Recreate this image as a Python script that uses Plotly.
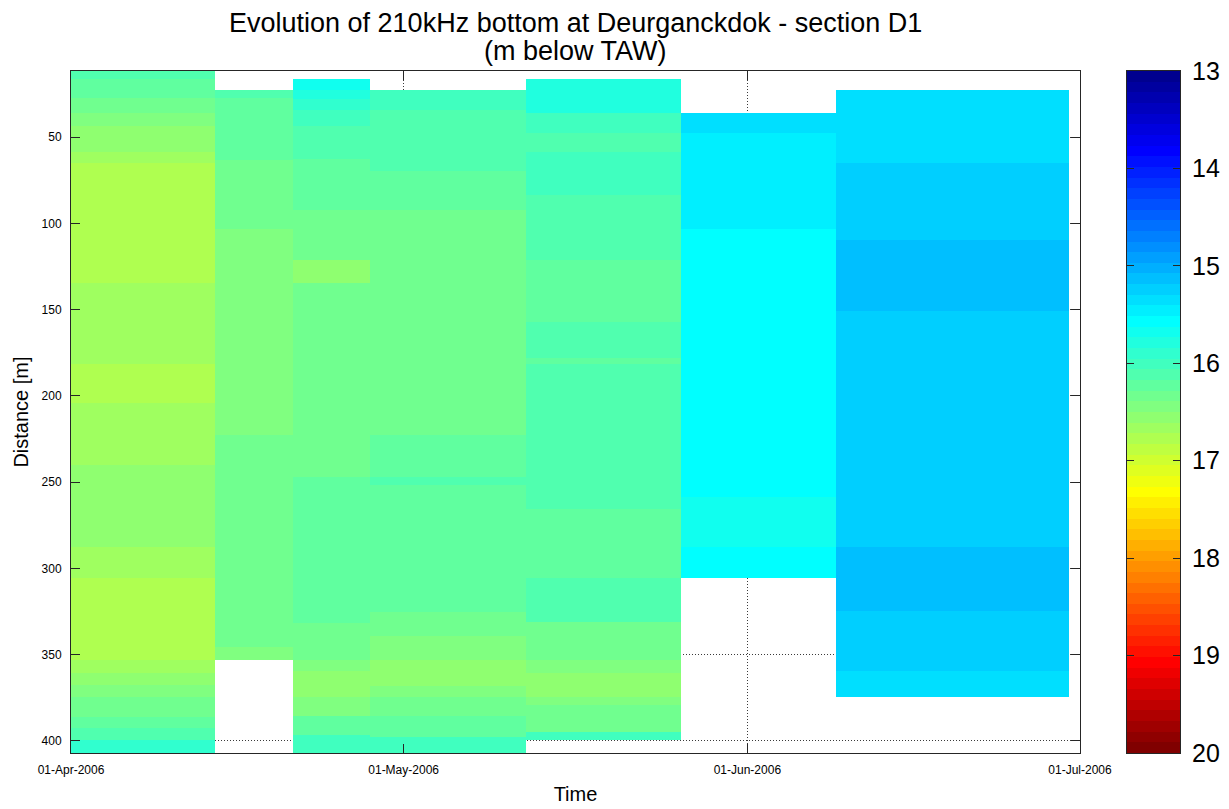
import numpy as np
import plotly.graph_objects as go

# Survey date edges: each surveyed period spans two consecutive dates
survey_edges = ["2006-04-01", "2006-04-14", "2006-04-21", "2006-04-28",
                "2006-05-12", "2006-05-26", "2006-06-09", "2006-06-30"]

# Distance cell edges along the section [m] and 210kHz bottom depth [m below TAW]
dist_s1 = [11.6, 16.2, 27.2, 35.9, 43.4, 58.5, 64.9, 134.5, 181.4, 204.0, 240.0,
           287.5, 305.5, 353.0, 360.6, 367.5, 374.5, 386.1, 392.4, 399.4, 407.0]
depth_s1 = [16.12, 16.23, 16.34, 16.45, 16.55, 16.66, 16.77, 16.66, 16.77, 16.66,
            16.55, 16.66, 16.77, 16.66, 16.55, 16.45, 16.34, 16.23, 16.12, 15.90]

dist_s2 = [22.6, 27.2, 63.2, 103.2, 222.6, 345.5, 353.0]
depth_s2 = [16.12, 16.23, 16.34, 16.45, 16.34, 16.45]

dist_s3 = [16.2, 22.6, 27.8, 34.2, 43.4, 62.6, 92.1, 121.1, 134.5, 246.9, 331.6,
           353.0, 359.4, 374.5, 385.5, 396.5, 407.0]
depth_s3 = [15.68, 15.79, 15.90, 16.01, 16.12, 16.23, 16.34, 16.55, 16.34, 16.23,
            16.34, 16.45, 16.55, 16.45, 16.23, 16.01]

dist_s4 = [22.6, 34.2, 69.5, 92.1, 222.6, 246.9, 251.6, 325.2, 339.1, 353.0,
           368.1, 374.5, 385.5, 397.7, 407.0]
depth_s4 = [16.01, 16.12, 16.23, 16.34, 16.23, 16.12, 16.23, 16.34, 16.45, 16.55,
            16.45, 16.34, 16.23, 16.01]

dist_s5 = [16.2, 35.9, 47.5, 58.5, 83.5, 121.1, 157.1, 178.0, 181.4, 265.5,
           305.5, 331.0, 353.0, 360.6, 374.5, 379.1, 394.8, 399.4]
depth_s5 = [15.79, 16.01, 16.12, 16.01, 16.12, 16.23, 16.12, 16.23, 16.12, 16.23,
            16.12, 16.34, 16.45, 16.55, 16.45, 16.34, 16.01]

dist_s6 = [35.9, 47.5, 103.2, 258.5, 287.5, 305.5]
depth_s6 = [15.35, 15.46, 15.57, 15.68, 15.57]

dist_s7 = [22.6, 64.9, 109.5, 150.7, 287.5, 324.6, 359.4, 374.5]
depth_s7 = [15.35, 15.24, 15.13, 15.24, 15.13, 15.24, 15.35]

surveys = [(dist_s1, depth_s1), (dist_s2, depth_s2), (dist_s3, depth_s3),
           (dist_s4, depth_s4), (dist_s5, depth_s5), (dist_s6, depth_s6),
           (dist_s7, depth_s7)]

# Axis ticks
time_ticks = ["2006-04-01", "2006-05-01", "2006-06-01", "2006-07-01"]
time_labels = ["01-Apr-2006", "01-May-2006", "01-Jun-2006", "01-Jul-2006"]
dist_ticks = [50, 100, 150, 200, 250, 300, 350, 400]
depth_ticks = [13, 14, 15, 16, 17, 18, 19, 20]

CMIN, CMAX, NLEV = 13.0, 20.0, 64


def jet(m):
    """MATLAB-style jet colormap with m entries."""
    n = int(np.ceil(m / 4))
    u = np.concatenate([np.arange(1, n + 1) / n, np.ones(n - 1), np.arange(n, 0, -1) / n])
    g = int(np.ceil(n / 2)) - (1 if m % 4 == 1 else 0) + np.arange(1, len(u) + 1)
    r = g + n
    b = g - n
    J = np.zeros((m, 3))
    for col, idx in ((0, r), (1, g), (2, b)):
        keep = (idx >= 1) & (idx <= m)
        J[idx[keep] - 1, col] = u[keep]
    return J


cmap = jet(NLEV)
colorscale = []
for k, c in enumerate(cmap):
    rgb = "rgb(%d,%d,%d)" % tuple(int(round(255 * v)) for v in c)
    colorscale.append([k / NLEV, rgb])
    colorscale.append([(k + 1) / NLEV, rgb])

# Merge every survey onto one common distance grid (gaps stay empty)
grid_d = sorted({d for dist, _ in surveys for d in dist})
grid_mid = [(a + b) / 2 for a, b in zip(grid_d[:-1], grid_d[1:])]
z = np.full((len(grid_mid), len(surveys)), np.nan)
for j, (dist, depth) in enumerate(surveys):
    for i, m in enumerate(grid_mid):
        for k in range(len(depth)):
            if dist[k] <= m < dist[k + 1]:
                z[i, j] = depth[k]
                break

FONT = "Arial, Liberation Sans, Helvetica, sans-serif"
AXC = "#262626"
GRID = "#3a3a3a"
GRID_DASH = "1px,2px"

fig = go.Figure()

fig.add_trace(go.Heatmap(
    x=survey_edges, y=grid_d, z=z,
    colorscale=colorscale, zmin=CMIN, zmax=CMAX,
    showscale=False, xaxis="x", yaxis="y", hoverongaps=False,
    hovertemplate="%{y:.0f} m: %{z:.2f} m<extra></extra>",
))

# Colour bar drawn as its own small axis so 13 sits at the top
cb_edges = np.linspace(CMIN, CMAX, NLEV + 1)
cb_mid = (cb_edges[:-1] + cb_edges[1:]) / 2
fig.add_trace(go.Heatmap(
    x=[0, 1], y=cb_edges, z=[[v] for v in cb_mid],
    colorscale=colorscale, zmin=CMIN, zmax=CMAX,
    showscale=False, xaxis="x2", yaxis="y2", hoverinfo="skip",
))

d_min, d_max = grid_d[0], grid_d[-1]

L, R, T, B = 71, 49, 71, 56
W, H = 1229, 809
pw = W - L - R
ph = H - T - B
main_w = 1009
cb_left = 1127 - L
title_x = (main_w / 2) / pw

fig.update_layout(
    width=W, height=H,
    margin=dict(l=L, r=R, t=T, b=B, pad=0, autoexpand=False),
    paper_bgcolor="white", plot_bgcolor="white",
    font=dict(family=FONT, color="black"),
    annotations=[
        dict(text="Evolution of 210kHz bottom at Deurganckdok - section D1",
             x=title_x, xref="paper", xanchor="center",
             y=1 + (T - 23) / ph, yref="paper", yanchor="middle",
             showarrow=False, font=dict(size=27, family=FONT, color="black")),
        dict(text="(m below TAW)",
             x=title_x, xref="paper", xanchor="center",
             y=1 + (T - 51) / ph, yref="paper", yanchor="middle",
             showarrow=False, font=dict(size=27, family=FONT, color="black")),
    ],
    xaxis=dict(
        domain=[0, main_w / pw], anchor="y", type="date", automargin=False,
        range=[time_ticks[0], time_ticks[-1]],
        tickmode="array", tickvals=time_ticks, ticktext=time_labels,
        ticks="inside", ticklen=9, tickcolor=AXC, tickwidth=1,
        showline=True, linecolor=AXC, linewidth=1, mirror="ticks",
        showgrid=True, gridcolor=GRID, griddash=GRID_DASH, gridwidth=1,
        zeroline=False, tickfont=dict(size=12, family=FONT, color="black"),
        ticklabelstandoff=6,
        title=dict(text="Time", font=dict(size=20, family=FONT, color="black"), standoff=10),
    ),
    yaxis=dict(
        anchor="x", range=[d_max, d_min], automargin=False,
        tickmode="array", tickvals=dist_ticks,
        ticks="inside", ticklen=9, tickcolor=AXC, tickwidth=1,
        showline=True, linecolor=AXC, linewidth=1, mirror="ticks",
        showgrid=True, gridcolor=GRID, griddash=GRID_DASH, gridwidth=1,
        zeroline=False, tickfont=dict(size=12, family=FONT, color="black"),
        ticklabelstandoff=6,
        title=dict(text="Distance [m]", font=dict(size=20, family=FONT, color="black"), standoff=7),
    ),
    xaxis2=dict(
        domain=[cb_left / pw, 1], anchor="y2", range=[0, 1], automargin=False,
        showticklabels=False, ticks="", showgrid=False, zeroline=False,
        showline=True, linecolor=AXC, linewidth=1, mirror=True, fixedrange=True,
    ),
    yaxis2=dict(
        anchor="x2", side="right", range=[CMAX, CMIN], automargin=False,
        tickmode="array", tickvals=depth_ticks,
        ticks="inside", ticklen=7, tickcolor=AXC, tickwidth=1,
        showline=True, linecolor=AXC, linewidth=1, mirror="ticks",
        showgrid=False, zeroline=False,
        tickfont=dict(size=25, family=FONT, color="black"),
        ticklabelstandoff=6, fixedrange=True,
    ),
)

fig.write_html("out.html")
